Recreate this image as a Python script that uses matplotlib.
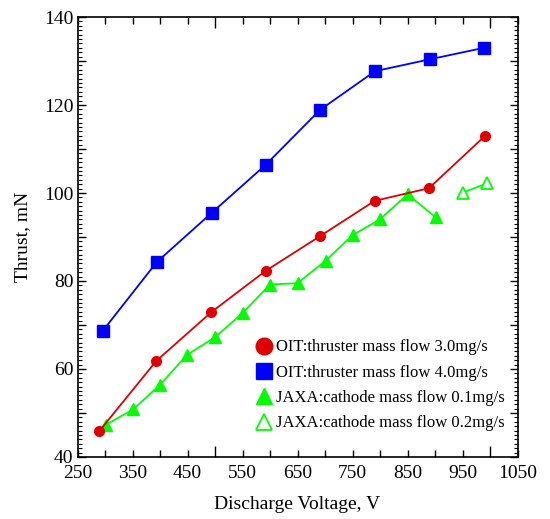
import matplotlib
matplotlib.use('Agg')
import matplotlib.pyplot as plt
from matplotlib.ticker import MultipleLocator, FuncFormatter
from matplotlib.lines import Line2D

# -------- DATA --------
volt_oit3 = [289, 393, 493, 592, 691, 790, 889, 991]
thrust_oit3 = [45.8, 61.8, 72.9, 82.3, 90.2, 98.2, 101.1, 113.0]

volt_oit4 = [296, 394, 494, 592, 691, 791, 891, 989]
thrust_oit4 = [68.7, 84.3, 95.5, 106.4, 118.9, 127.7, 130.4, 133.0]

volt_jaxa1 = [301, 351, 400, 449, 500, 550, 600, 650, 701, 750, 800, 850, 901]
thrust_jaxa1 = [47.3, 50.8, 56.4, 63.2, 67.2, 72.7, 79.2, 79.5, 84.6, 90.4, 94.0, 99.7, 94.5]

volt_jaxa2 = [951, 994]
thrust_jaxa2 = [100.1, 102.2]

labels = ['OIT:thruster mass flow 3.0mg/s',
          'OIT:thruster mass flow 4.0mg/s',
          'JAXA:cathode mass flow 0.1mg/s',
          'JAXA:cathode mass flow 0.2mg/s']
# -------- DATA. --------

plt.rcParams['font.family'] = ['Liberation Serif', 'DejaVu Serif']

red = (0.88, 0.0, 0.0)
blue = (0.0, 0.0, 1.0)
green = (0.0, 1.0, 0.0)

fig = plt.figure(figsize=(5.5, 5.19), dpi=100)
ax = fig.add_axes([0.141, 0.1195, 0.8, 0.8477])

ax.plot(volt_oit3, thrust_oit3, color=red, lw=1.3, marker='o', ms=7, mec=red, mfc=red, zorder=3)
ax.plot(volt_oit4, thrust_oit4, color=blue, lw=1.3, marker='s', ms=9, mec=blue, mfc=blue, zorder=3)
ax.plot(volt_jaxa1, thrust_jaxa1, color=green, lw=1.3, marker='^', ms=8.5, mec=green, mfc=green, zorder=2)
ax.plot(volt_jaxa2, thrust_jaxa2, color=green, lw=1.3, marker='^', ms=8.5, mec=green, mfc='white',
        mew=1.3, zorder=2)

ax.set_xlim(250, 1050)
ax.set_ylim(40, 140)

# ---- x ticks: long at 500s, short every 50, labels on a secondary axis
ax.xaxis.set_major_locator(MultipleLocator(500))
ax.xaxis.set_minor_locator(MultipleLocator(50))
ax.tick_params(axis='x', which='both', direction='in', top=True, bottom=True, labelbottom=False)
ax.tick_params(axis='x', which='major', length=8, width=1)
ax.tick_params(axis='x', which='minor', length=5, width=1)

sec = ax.secondary_xaxis('bottom')
sec.set_xticks(list(range(250, 1051, 100)))
sec.tick_params(length=0, labelsize=14, pad=6)
sec.spines['bottom'].set_visible(False)
sec.set_xlabel('Discharge Voltage, V', fontsize=14, labelpad=10)

# ---- y ticks: long every 10, labels every 20, short every 1
ax.yaxis.set_major_locator(MultipleLocator(10))
ax.yaxis.set_minor_locator(MultipleLocator(1))
ax.yaxis.set_major_formatter(FuncFormatter(lambda v, p: '%d' % v if int(round(v)) % 20 == 0 else ''))
ax.tick_params(axis='y', which='both', direction='in', left=True, right=True, labelsize=14, pad=3)
ax.tick_params(axis='y', which='major', length=6, width=1)
ax.tick_params(axis='y', which='minor', length=3, width=0.8)
ax.set_ylabel('Thrust, mN', fontsize=14, labelpad=9)

for s in ax.spines.values():
    s.set_linewidth(1.2)

# ---- legend
handles = [
    Line2D([], [], ls='none', marker='o', ms=12, mfc=red, mec=red),
    Line2D([], [], ls='none', marker='s', ms=11.5, mfc=blue, mec=blue),
    Line2D([], [], ls='none', marker='^', ms=12, mfc=green, mec=green),
    Line2D([], [], ls='none', marker='^', ms=12, mfc='white', mec=green, mew=1.3),
]
leg = ax.legend(handles, labels, loc='lower right', bbox_to_anchor=(0.97, 0.058), frameon=False,
                fontsize=12, handlelength=1.0, handletextpad=0.2, labelspacing=0.56,
                borderpad=0, borderaxespad=0)

fig.savefig('out.png', dpi=100)
